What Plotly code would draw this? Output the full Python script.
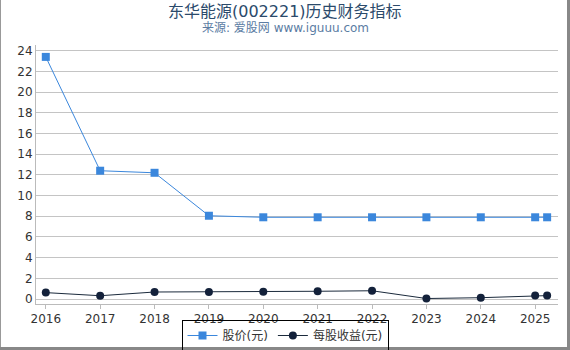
import plotly.graph_objects as go

years = [2016, 2017, 2018, 2019, 2020, 2021, 2022, 2023, 2024, 2025, 2025.22]
price = [23.4, 12.4, 12.2, 8.05, 7.9, 7.9, 7.9, 7.9, 7.9, 7.9, 7.9]
eps = [0.62, 0.32, 0.68, 0.68, 0.70, 0.75, 0.80, 0.05, 0.13, 0.33, 0.33]
tick_years = [2016, 2017, 2018, 2019, 2020, 2021, 2022, 2023, 2024, 2025]
y_ticks = list(range(0, 25, 2))

W, H = 570, 350
ml, mr, mt, mb = 36, 12, 45, 46
pw, ph = W - ml - mr, H - mt - mb


def px_x(x):
    return (x - ml) / pw


def px_y(y):
    return 1 - (y - mt) / ph


fig = go.Figure()
fig.add_trace(go.Scatter(
    x=years, y=price, name="股价(元)", mode="lines+markers",
    line=dict(color="#3b87dc", width=1),
    marker=dict(symbol="square", size=8, color="#3b87dc"),
))
fig.add_trace(go.Scatter(
    x=years, y=eps, name="每股收益(元)", mode="lines+markers",
    line=dict(color="#1b2a3c", width=1),
    marker=dict(symbol="circle", size=8, color="#13213a"),
))

font_family = "DejaVu Sans, Noto Sans CJK SC, sans-serif"
fig.update_layout(
    width=W, height=H,
    margin=dict(l=ml, r=mr, t=mt, b=mb, autoexpand=False),
    paper_bgcolor="white", plot_bgcolor="white",
    font=dict(family=font_family, size=12, color="#333333"),
    showlegend=True,
    legend=dict(
        orientation="h", x=0.5, xanchor="center", xref="container",
        y=px_y(320), yanchor="top", yref="paper",
        bordercolor="#000000", borderwidth=1, font=dict(size=12, color="#333333"),
        bgcolor="rgba(0,0,0,0)",
        itemwidth=30, tracegroupgap=0,
    ),
    xaxis=dict(
        range=[2015.82, 2025.42], tickvals=tick_years, ticktext=[str(t) for t in tick_years],
        showgrid=False, showline=True, linecolor="#bbbbbb", linewidth=1,
        ticks="outside", ticklen=4, tickcolor="#bbbbbb", zeroline=False,
        tickfont=dict(size=12, color="#333333"),
    ),
    yaxis=dict(
        range=[-0.48, 24.55], tickvals=y_ticks,
        showgrid=True, gridcolor="#c4c4c4", gridwidth=1,
        showline=True, linecolor="#bbbbbb", linewidth=1, zeroline=False,
        ticks="", tickfont=dict(size=12, color="#333333"),
    ),
    annotations=[
        dict(text="东华能源(002221)历史财务指标", xref="paper", yref="paper",
             x=px_x(W / 2), y=px_y(11.5), xanchor="center", yanchor="middle",
             showarrow=False, font=dict(size=16, color="#2b4a6b")),
        dict(text="来源: 爱股网 www.iguuu.com", xref="paper", yref="paper",
             x=px_x(W / 2), y=px_y(28), xanchor="center", yanchor="middle",
             showarrow=False, font=dict(size=12, color="#5b7ca3")),
    ],
    shapes=[
        dict(type="line", xref="paper", yref="paper",
             x0=px_x(0.5), x1=px_x(0.5), y0=px_y(0), y1=px_y(350),
             line=dict(color="#999999", width=1), layer="above"),
        dict(type="rect", xref="paper", yref="paper",
             x0=px_x(567), x1=px_x(571), y0=px_y(0), y1=px_y(351),
             line=dict(width=0), fillcolor="#888888", layer="above"),
        dict(type="rect", xref="paper", yref="paper",
             x0=px_x(0), x1=px_x(571), y0=px_y(347), y1=px_y(351),
             line=dict(width=0), fillcolor="#888888", layer="above"),
    ],
)

fig.write_html("out.html")
